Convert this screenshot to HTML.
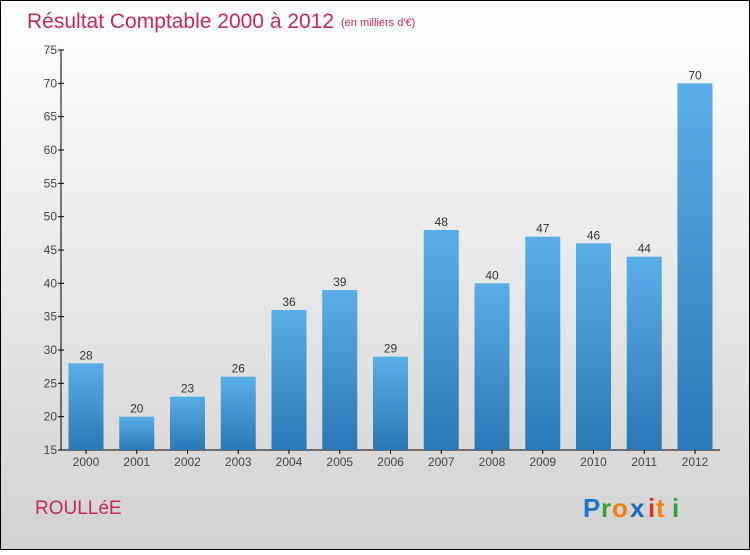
<!DOCTYPE html>
<html><head><meta charset="utf-8"><style>
body{margin:0;}
#c{width:750px;height:550px;position:relative;font-family:"Liberation Sans",sans-serif;}
</style></head><body>
<div id="c">
<svg width="750" height="550" id="svg">
<defs>
<linearGradient id="bg" x1="0" y1="0" x2="0" y2="1"><stop offset="0" stop-color="#ffffff"/><stop offset="1" stop-color="#d2d2d2"/></linearGradient>
<linearGradient id="bar" x1="0" y1="0" x2="0" y2="1"><stop offset="0" stop-color="#5aaee8"/><stop offset="1" stop-color="#2a78b5"/></linearGradient>
</defs>
<rect x="0.5" y="0.5" width="749" height="549" fill="url(#bg)" stroke="#000"/>
<text x="27" y="28" font-size="21" fill="#c8285a">Résultat Comptable 2000 à 2012</text>
<text x="341" y="26" font-size="11" fill="#c8285a">(en milliers d'€)</text>
<g id="axes"></g><g id="bars"></g>
<text x="35" y="514" font-size="19" fill="#c8285a">ROULLéE</text>
<g font-size="26" font-weight="bold" font-family="'Liberation Sans',sans-serif">
<text x="583" y="517" fill="#1a7ad0">P</text><text x="601" y="517" fill="#3aa040">r</text><text x="612" y="517" fill="#f08010">o</text><text x="630" y="517" fill="#1a6ac0">x</text><text x="648" y="517" fill="#e03020">i</text><text x="656" y="517" fill="#f08010">t</text><text x="672" y="517" fill="#30a040">i</text>
</g>
</svg></div>
<script>
const years=["2000","2001","2002","2003","2004","2005","2006","2007","2008","2009","2010","2011","2012"];
const values=[28,20,23,26,36,39,29,48,40,47,46,44,70];
const yTicks=[15,20,25,30,35,40,45,50,55,60,65,70,75];
const NS="http://www.w3.org/2000/svg";
const y0=450,y1=50,vmin=15,vmax=75;
const y=v=>y0-(v-vmin)*(y0-y1)/(vmax-vmin);
const x=i=>86+i*50.75;
function mk(t,a,p){const e=document.createElementNS(NS,t);for(const k in a)e.setAttribute(k,a[k]);p.appendChild(e);return e;}
const ax=document.getElementById('axes'),bg=document.getElementById('bars');
let l=mk('line',{x1:61,y1:y1,x2:61,y2:y0,stroke:'#000'},ax);


l=mk('line',{x1:61,y1:y0,x2:720,y2:y0,stroke:'#000'},ax);


yTicks.forEach(v=>{mk('line',{x1:58,x2:64,y1:y(v),y2:y(v),stroke:'#000'},ax);
const t=mk('text',{x:57,y:y(v)+4,'font-size':12,fill:'#444','text-anchor':'end'},ax);t.textContent=v;

});
years.forEach((yr,i)=>{
const r=mk('rect',{x:x(i)-17.5,y:y(values[i]),width:35,height:y0-y(values[i]),fill:'url(#bar)'},bg);


const v=mk('text',{x:x(i),y:y(values[i])-4,'font-size':12,fill:'#333','text-anchor':'middle'},bg);v.textContent=values[i];


mk('line',{x1:x(i),x2:x(i),y1:y0,y2:y0+4,stroke:'#000'},ax);
const t=mk('text',{x:x(i),y:466,'font-size':12,fill:'#444','text-anchor':'middle'},ax);t.textContent=yr;


});
</script>
</body></html>
